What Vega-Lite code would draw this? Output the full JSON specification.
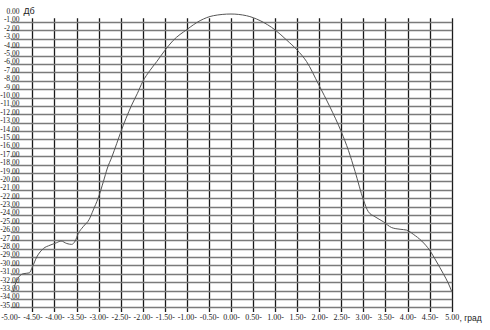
{
  "$schema": "https://vega.github.io/schema/vega-lite/v6.json",
  "autosize": "none",
  "width": 432,
  "height": 291,
  "padding": {"left": 20, "top": 17, "right": 38, "bottom": 22},
  "background": "white",
  "config": {"view": {"stroke": null}, "font": "Liberation Sans"},
  "data": {"values": [
    {"x": -4.94, "y": -33.2}, {"x": -4.87, "y": -32.0}, {"x": -4.71, "y": -31.0}, {"x": -4.57, "y": -30.9},
    {"x": -4.50, "y": -30.2}, {"x": -4.40, "y": -29.0}, {"x": -4.25, "y": -28.0}, {"x": -4.10, "y": -27.6},
    {"x": -3.95, "y": -27.3}, {"x": -3.85, "y": -27.1}, {"x": -3.72, "y": -27.4}, {"x": -3.61, "y": -27.5},
    {"x": -3.53, "y": -27.1}, {"x": -3.46, "y": -26.2}, {"x": -3.35, "y": -25.4}, {"x": -3.21, "y": -24.5},
    {"x": -3.12, "y": -23.4}, {"x": -3.01, "y": -22.0}, {"x": -2.89, "y": -20.0}, {"x": -2.80, "y": -18.4},
    {"x": -2.70, "y": -17.1}, {"x": -2.59, "y": -15.5}, {"x": -2.51, "y": -14.3}, {"x": -2.38, "y": -12.5},
    {"x": -2.25, "y": -10.9}, {"x": -2.12, "y": -9.5}, {"x": -2.00, "y": -8.1}, {"x": -1.84, "y": -6.8},
    {"x": -1.68, "y": -5.7}, {"x": -1.50, "y": -4.4}, {"x": -1.31, "y": -3.2}, {"x": -1.00, "y": -1.9},
    {"x": -0.70, "y": -0.84}, {"x": -0.40, "y": -0.25}, {"x": 0.00, "y": -0.05}, {"x": 0.35, "y": -0.25},
    {"x": 0.66, "y": -0.84}, {"x": 1.00, "y": -1.95}, {"x": 1.26, "y": -3.15}, {"x": 1.50, "y": -4.35},
    {"x": 1.71, "y": -5.7}, {"x": 1.99, "y": -8.5}, {"x": 2.24, "y": -11.1}, {"x": 2.50, "y": -14.1},
    {"x": 2.66, "y": -16.3}, {"x": 2.81, "y": -18.8}, {"x": 3.00, "y": -22.2}, {"x": 3.11, "y": -23.6},
    {"x": 3.26, "y": -24.2}, {"x": 3.45, "y": -24.8}, {"x": 3.64, "y": -25.5}, {"x": 3.83, "y": -25.7},
    {"x": 3.98, "y": -25.8}, {"x": 4.13, "y": -26.3}, {"x": 4.32, "y": -27.1}, {"x": 4.50, "y": -28.2},
    {"x": 4.66, "y": -29.6}, {"x": 4.81, "y": -31.0}, {"x": 4.92, "y": -32.1}, {"x": 5.00, "y": -33.1}
  ]},
  "mark": {"type": "line", "color": "#555555", "strokeWidth": 1, "interpolate": "monotone"},
  "encoding": {
    "x": {
      "field": "x", "type": "quantitative",
      "scale": {"domain": [-5, 5], "range": [-9.7, 431.7], "nice": false, "zero": false},
      "axis": {
        "values": [-5, -4.5, -4, -3.5, -3, -2.5, -2, -1.5, -1, -0.5, 0, 0.5, 1, 1.5, 2, 2.5, 3, 3.5, 4, 4.5, 5],
        "labelExpr": "datum.value == 5 ? '5.00' : replace(format(datum.value, '.2f'), '\u2212', '-') + '-'",
        "domain": false, "ticks": false,
        "grid": true, "gridColor": "#1a1a1a", "gridWidth": 1.3,
        "gridOpacity": {"condition": {"test": "datum.value == -5", "value": 0}, "value": 1},
        "labelFont": "Liberation Sans Narrow", "labelFontSize": 8, "labelColor": "#222222", "labelPadding": 5, "labelFlush": false, "labelOverlap": false,
        "title": ", град", "titleFont": "Liberation Sans", "titleFontSize": 8.5, "titleFontWeight": "normal", "titleColor": "#222222",
        "titleX": 439, "titleY": 9, "titleAlign": "left", "titleBaseline": "middle", "titleAnchor": null
      }
    },
    "y": {
      "field": "y", "type": "quantitative",
      "scale": {"domain": [-35, 0], "range": [290.3, -3.4], "nice": false, "zero": false},
      "axis": {
        "values": [0, -1, -2, -3, -4, -5, -6, -7, -8, -9, -10, -11, -12, -13, -14, -15, -16, -17, -18, -19, -20, -21, -22, -23, -24, -25, -26, -27, -28, -29, -30, -31, -32, -33, -34, -35],
        "labelExpr": "replace(format(datum.value, '.2f'), '\u2212', '-')",
        "domain": false, "ticks": false,
        "grid": true, "gridColor": "#7a7a7a", "gridWidth": 1.6,
        "gridOpacity": {"condition": {"test": "datum.value == 0", "value": 0}, "value": 1},
        "labelFont": "Liberation Sans Narrow", "labelFontSize": 7.5, "labelColor": "#222222", "labelPadding": 1, "labelBaseline": "alphabetic", "labelFlush": false, "labelOverlap": false,
        "title": "Дб", "titleFont": "Liberation Sans", "titleFontSize": 9, "titleFontWeight": "normal", "titleColor": "#222222", "titleAngle": 0,
        "titleX": 3, "titleY": -7, "titleAlign": "left", "titleBaseline": "middle"
      }
    }
  }
}
